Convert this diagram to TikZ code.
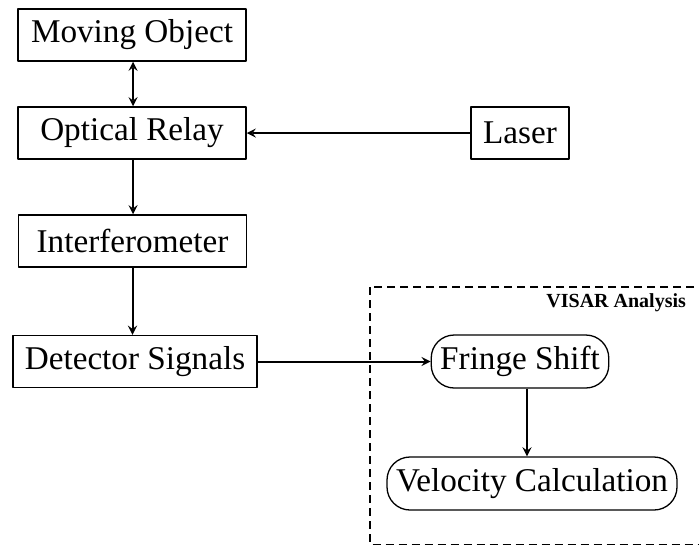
\documentclass[tikz,border=0pt]{standalone}
\usepackage{fontspec}
\setmainfont{Liberation Serif}
\begin{document}
\begin{tikzpicture}[x=0.5pt, y=-0.5pt, line join=round, >=stealth,
  font=\fontsize{16.6}{19}\selectfont,
  blockbox/.style={draw, line width=0.75pt, inner xsep=6pt, minimum height=26pt},
  roundbox/.style={draw, line width=0.65pt, rounded corners=11.5pt, inner xsep=4.5pt, minimum height=26.5pt},
  arr/.style={->, line width=1pt}]
\path[use as bounding box, clip] (0,0) rectangle (699,546);
% analysis frame
\draw[dashed, dash pattern=on 4pt off 2.5pt, line width=0.55pt] (370,287) rectangle (710,544.5);
\node[anchor=east, font=\fontsize{10}{12}\selectfont\bfseries] (visar) at (693,303) {VISAR Analysis};
% blocks
\node[blockbox, minimum width=114pt] (object) at (132,35) {Moving Object};
\node[blockbox, minimum width=114pt] (relay) at (132,133) {Optical Relay};
\node[blockbox] (laser) at (520,133) {Laser};
\node[blockbox, minimum width=114pt] (interf) at (132.5,241) {Interferometer};
\node[blockbox] (detect) at (135,361.5) {Detector Signals};
\node[roundbox] (fringe) at (520,361.5) {Fringe Shift};
\node[roundbox] (veloc) at (532,483.5) {Velocity Calculation};
% connectors
\draw[<->, line width=1pt] ([xshift=0.5pt]object.south) -- ([xshift=0.5pt]relay.north);
\draw[arr] (laser) -- (relay);
\draw[arr] ([xshift=0.5pt]relay.south) -- ([xshift=0.5pt]relay.south |- interf.north);
\draw[arr] (interf) -- (interf |- detect.north);
\draw[arr] (detect) -- (fringe);
\draw[arr] ([xshift=3.5pt]fringe.south) -- ([xshift=3.5pt]fringe.south |- veloc.north);
\end{tikzpicture}
\end{document}
